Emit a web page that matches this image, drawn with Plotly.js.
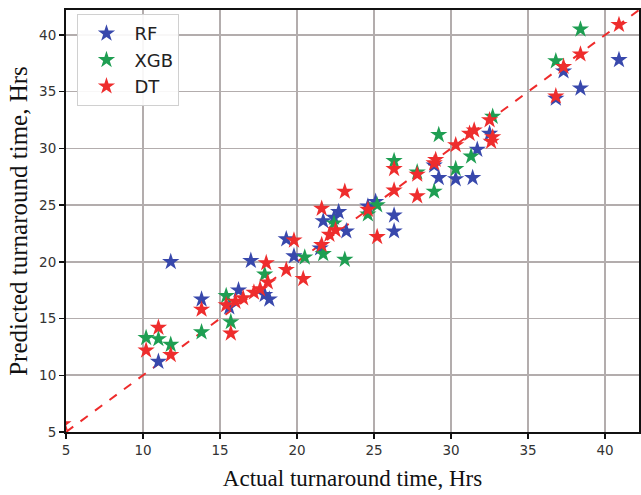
<!DOCTYPE html>
<html>
<head>
<meta charset="utf-8">
<script src="https://cdn.plot.ly/plotly-3.0.1.min.js"></script>
<style>html,body{margin:0;padding:0;background:#fff}#chart{width:641px;height:495px}</style>
</head>
<body>
<div id="chart"></div>
<script>
// RF (Random Forest) — actual vs predicted
const rfActual    = [11.8, 17.0, 11.0, 13.8, 16.2, 15.6, 17.9, 18.2, 19.3, 19.8, 21.5, 21.7, 22.4, 22.7, 23.2, 24.6, 25.1, 26.3, 26.3, 28.9, 29.2, 30.3, 31.4, 31.7, 32.5, 36.8, 37.3, 38.4, 40.9];
const rfPred      = [20.0, 20.1, 11.2, 16.7, 17.5, 16.0, 17.1, 16.7, 22.0, 20.5, 21.2, 23.6, 23.9, 24.4, 22.7, 24.9, 25.3, 24.1, 22.7, 28.5, 27.4, 27.3, 27.4, 29.9, 31.3, 34.4, 36.8, 35.3, 37.8];
// XGB
const xgbActual   = [10.2, 11.0, 11.8, 13.8, 15.4, 15.7, 17.9, 20.5, 21.7, 22.4, 23.1, 24.6, 25.2, 26.3, 27.8, 28.9, 29.2, 30.3, 31.3, 32.7, 36.8, 38.4];
const xgbPred     = [13.3, 13.2, 12.7, 13.8, 17.0, 14.7, 18.9, 20.4, 20.7, 23.4, 20.2, 24.2, 25.0, 28.9, 27.9, 26.2, 31.2, 28.2, 29.3, 32.8, 37.7, 40.5];
// DT
const dtActual    = [4.8, 10.2, 11.0, 11.8, 13.8, 15.7, 15.4, 16.0, 16.5, 17.2, 17.6, 18.0, 18.1, 19.3, 19.8, 20.4, 21.6, 21.6, 22.1, 22.5, 23.1, 24.6, 25.2, 26.3, 26.3, 27.8, 27.8, 28.9, 29.0, 30.3, 31.2, 31.5, 32.5, 32.6, 32.7, 36.8, 37.3, 38.4, 40.9];
const dtPred      = [5.7, 12.2, 14.2, 11.8, 15.8, 13.7, 16.2, 16.5, 16.8, 17.3, 17.6, 19.9, 18.2, 19.3, 21.9, 18.5, 21.5, 24.7, 22.4, 22.8, 26.2, 24.6, 22.2, 28.2, 26.3, 25.8, 27.7, 28.7, 29.0, 30.3, 31.3, 31.6, 32.5, 30.6, 31.0, 34.6, 37.2, 38.3, 40.9];
// reference line and axes
const idealLine   = [5, 42.2];
const axisRange   = [5, 42.2];
const tickVals    = [5, 10, 15, 20, 25, 30, 35, 40];

const star = (c) => ({symbol: 'star', size: 13, color: c, line: {width: 0}});
const traces = [
  {x: idealLine, y: idealLine, mode: 'lines', line: {color: '#ee2b2b', width: 2, dash: 'dash'}, showlegend: false, hoverinfo: 'skip'},
  {x: rfActual, y: rfPred, mode: 'markers', name: 'RF', marker: star('#3848ac')},
  {x: xgbActual, y: xgbPred, mode: 'markers', name: 'XGB', marker: star('#1e9e52')},
  {x: dtActual, y: dtPred, mode: 'markers', name: 'DT', marker: star('#ee2d2d')}
];
const axisBase = {
  range: axisRange, tickvals: tickVals, showgrid: true, gridcolor: '#b3adad', gridwidth: 1.6,
  zeroline: false, showline: true, mirror: true, linecolor: '#111', linewidth: 2,
  ticks: 'outside', ticklen: 5, tickwidth: 1.5, tickcolor: '#111',
  tickfont: {family: 'DejaVu Sans', size: 13.5, color: '#333'}
};
const layout = {
  width: 641, height: 495,
  margin: {l: 66, r: 2, t: 10, b: 63},
  paper_bgcolor: '#fff', plot_bgcolor: '#fff',
  xaxis: Object.assign({}, axisBase, {title: {text: 'Actual turnaround time, Hrs', font: {family: 'Liberation Serif', size: 23, color: '#111'}, standoff: 13}}),
  yaxis: Object.assign({}, axisBase, {title: {text: 'Predicted turnaround time, Hrs', font: {family: 'Liberation Serif', size: 25, color: '#111'}, standoff: 4}}),
  legend: {x: 0.02, y: 0.99, xanchor: 'left', yanchor: 'top', bgcolor: 'rgba(255,255,255,0.9)', bordercolor: '#d0d0d0', borderwidth: 1,
           font: {family: 'DejaVu Sans', size: 18, color: '#222'}, itemwidth: 46},
  showlegend: true
};
Plotly.newPlot('chart', traces, layout, {displayModeBar: false, staticPlot: true});
</script>
</body>
</html>
